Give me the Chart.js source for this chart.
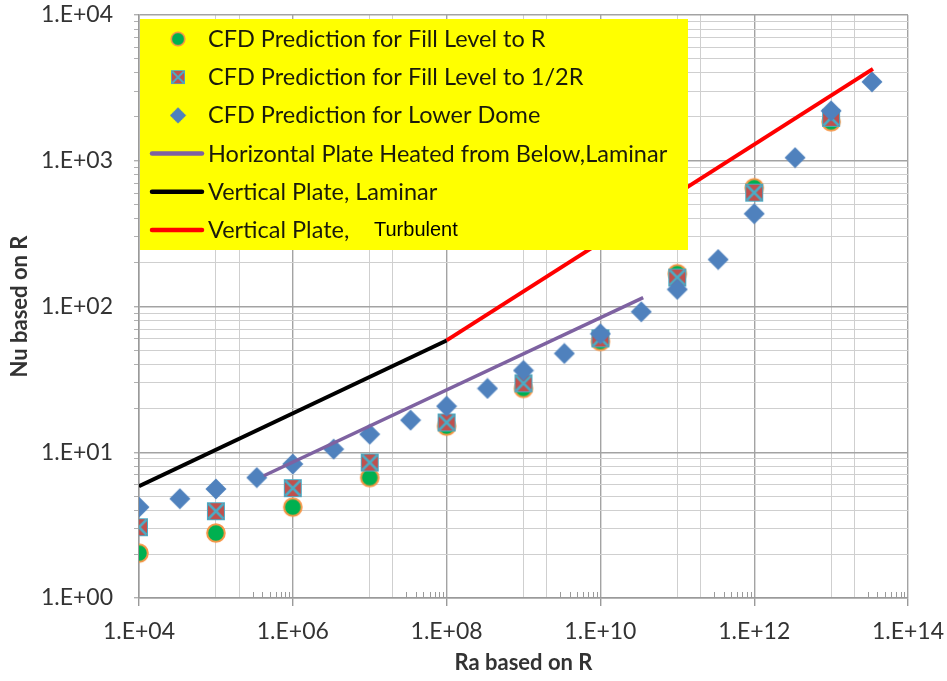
<!DOCTYPE html>
<html>
<head>
<meta charset="utf-8">
<script src="https://cdn.jsdelivr.net/npm/chart.js@4.4.1/dist/chart.umd.min.js"></script>
<style>
  html, body { margin: 0; padding: 0; background: #fff; }
</style>
</head>
<body>
<canvas id="nuChart" width="947" height="681"></canvas>
<script>
// values
const fillRa = [1e4, 1e5, 1e6, 1e7, 1e8, 1e9, 1e10, 1e11, 1e12, 1e13];
const fillRNu = [2.03, 2.79, 4.2, 6.7, 15.1, 27.4, 57.6, 168, 653, 1850];
const fillHalfRNu = [3.06, 3.94, 5.67, 8.5, 16.0, 29.7, 60.4, 158, 604, 1970];

const domeRa = [1e4, 3.4e4, 1e5, 3.4e5, 1e6, 3.4e6, 1e7, 3.4e7, 1e8, 3.4e8,
  1e9, 3.4e9, 1e10, 3.4e10, 1e11, 3.4e11, 1e12, 3.4e12, 1e13, 3.4e13];
const domeNu = [4.2, 4.8, 5.6, 6.7, 8.3, 10.5, 13.3, 16.6, 20.7, 27.4,
  36.4, 47.6, 65, 92, 131, 210, 433, 1050, 2200, 3480];

const horizRa = [4.2e5, 3.6e10];
const horizNu = [6.9, 115];
const vertLamRa = [1e4, 1e8];
const vertLamNu = [5.85, 58.5];
const vertTurbRa = [1e8, 3.5e13];
const vertTurbNu = [58.5, 4270];

const xMajorTicks = [1e4, 1e6, 1e8, 1e10, 1e12, 1e14];
const xTickLabels = ["1.E+04", "1.E+06", "1.E+08", "1.E+10", "1.E+12", "1.E+14"];
const yMajorTicks = [1, 10, 100, 1000, 10000];
const yTickLabels = ["1.E+00", "1.E+01", "1.E+02", "1.E+03", "1.E+04"];

const labels = [
  "CFD Prediction for Fill Level to R",
  "CFD Prediction for Fill Level to 1/2R",
  "CFD Prediction for Lower Dome",
  "Horizontal Plate Heated from Below,Laminar",
  "Vertical Plate, Laminar",
  "Vertical Plate, Turbulent"
];

// grid positions: 10^even, plus 1 and 2 x 10^odd (Excel base-100 look)
const xGrid = [];
const xSmallTicks = [];
for (let e = 4; e <= 14; e++) {
  const p = Math.pow(10, e);
  xGrid.push(p);
  if (e % 2 === 1) {
    xGrid.push(2 * p);
    for (let k = 3; k <= 9; k++) xSmallTicks.push(k * p);
  }
}
const yGrid = [];
for (let n = 0; n < 4; n++) {
  for (let k = 1; k <= 9; k++) yGrid.push(k * Math.pow(10, n));
}
yGrid.push(10000);

function pairs(xs, ys) {
  return xs.map((x, i) => ({ x: x, y: ys[i] }));
}

function makeMarker(kind) {
  const c = document.createElement("canvas");
  c.width = 22;
  c.height = 22;
  const g = c.getContext("2d");
  if (kind === "circle") {
    g.beginPath();
    g.arc(11, 11, 8.8, 0, Math.PI * 2);
    g.fillStyle = "#00b050";
    g.fill();
    g.lineWidth = 2;
    g.strokeStyle = "#f79646";
    g.stroke();
  } else if (kind === "square") {
    g.fillStyle = "#c0504d";
    g.fillRect(2.5, 2.5, 17, 17);
    g.strokeStyle = "#4bacc6";
    g.lineWidth = 2.5;
    g.beginPath();
    g.moveTo(3.5, 3.5); g.lineTo(18.5, 18.5);
    g.moveTo(18.5, 3.5); g.lineTo(3.5, 18.5);
    g.stroke();
    g.lineWidth = 1;
    g.strokeRect(2.5, 2.5, 17, 17);
  } else {
    g.beginPath();
    g.moveTo(11, 0.5); g.lineTo(21.5, 11); g.lineTo(11, 21.5); g.lineTo(0.5, 11);
    g.closePath();
    g.fillStyle = "#4f81bd";
    g.fill();
  }
  return c;
}

const circleImg = makeMarker("circle");
const squareImg = makeMarker("square");
const diamondImg = makeMarker("diamond");

const smallTicks = {
  id: "smallTicks",
  beforeDatasetsDraw(chart) {
    const { ctx, chartArea, scales } = chart;
    ctx.save();
    ctx.strokeStyle = "#9a9a9a";
    ctx.lineWidth = 1;
    ctx.beginPath();
    xSmallTicks.forEach((v) => {
      const px = Math.round(scales.x.getPixelForValue(v)) + 0.5;
      ctx.moveTo(px, chartArea.bottom);
      ctx.lineTo(px, chartArea.bottom - 6);
    });
    ctx.stroke();
    ctx.restore();
  }
};

const legendBox = {
  id: "legendBox",
  afterDraw(chart) {
    const { ctx, chartArea } = chart;
    const x0 = chartArea.left + 1;
    const y0 = chartArea.top + 4;
    ctx.save();
    ctx.fillStyle = "#ffff00";
    ctx.fillRect(x0, y0, 548, 231);
    chart.data.datasets.forEach((ds, i) => {
      const y = y0 + 20 + i * 38.2;
      if (ds.showLine) {
        ctx.strokeStyle = ds.borderColor;
        ctx.lineWidth = 4.5;
        ctx.lineCap = "round";
        ctx.beginPath();
        ctx.moveTo(x0 + 12, y);
        ctx.lineTo(x0 + 62, y);
        ctx.stroke();
      } else {
        const img = ds.pointStyle;
        ctx.drawImage(img, x0 + 38 - 8.5, y - 8.5, 17, 17);
      }
      ctx.fillStyle = "#1a1a0c";
      ctx.font = "23.5px Lato";
      ctx.textBaseline = "alphabetic";
      const text = ds.label;
      if (text.indexOf("Turbulent") > -1) {
        ctx.fillText("Vertical Plate, ", x0 + 68, y + 8);
        ctx.fillStyle = "#000";
        ctx.font = "20px 'Liberation Sans'";
        ctx.fillText("Turbulent", x0 + 234, y + 6);
      } else {
        ctx.fillText(text, x0 + 68, y + 8);
      }
    });
    ctx.restore();
  }
};

function initChart() {
  const ctx = document.getElementById("nuChart").getContext("2d");

  new Chart(ctx, {
    type: "scatter",
    data: {
      datasets: [
        { label: labels[0], data: pairs(fillRa, fillRNu), pointStyle: circleImg, pointRadius: 9, order: 3 },
        { label: labels[1], data: pairs(fillRa, fillHalfRNu), pointStyle: squareImg, pointRadius: 9, order: 2 },
        { label: labels[2], data: pairs(domeRa, domeNu), pointStyle: diamondImg, pointRadius: 10, order: 1 },
        { label: labels[3], data: pairs(horizRa, horizNu), showLine: true, borderColor: "#7e62a1", borderWidth: 3.5, pointRadius: 0, order: 0 },
        { label: labels[4], data: pairs(vertLamRa, vertLamNu), showLine: true, borderColor: "#000000", borderWidth: 4, pointRadius: 0, order: 0 },
        { label: labels[5], data: pairs(vertTurbRa, vertTurbNu), showLine: true, borderColor: "#ff0000", borderWidth: 4, pointRadius: 0, order: 0 }
      ]
    },
    options: {
      responsive: false,
      animation: false,
      layout: { padding: { top: 15, right: 39, left: 0, bottom: 0 } },
      plugins: {
        legend: { display: false },
        tooltip: { enabled: false }
      },
      scales: {
        x: {
          type: "logarithmic",
          min: 1e4,
          max: 1e14,
          afterBuildTicks: (s) => { s.ticks = xGrid.map((v) => ({ value: v })); },
          afterFit: (s) => {
            s.height = 83;
            s.paddingLeft = 0;
            s.paddingRight = 0;
          },
          border: { color: "#9a9a9a", width: 1.5 },
          grid: {
            color: (c) => (xMajorTicks.indexOf(c.tick.value) > -1 ? "#a3a3a3" : "#cfcfcf"),
            lineWidth: (c) => (xMajorTicks.indexOf(c.tick.value) > -1 ? 1.4 : 1),
            tickColor: (c) => (xMajorTicks.indexOf(c.tick.value) > -1 ? "#9a9a9a" : "rgba(0,0,0,0)"),
            tickLength: 8
          },
          ticks: {
            autoSkip: false,
            maxRotation: 0,
            padding: 12,
            color: "#333333",
            font: { family: "Lato", size: 23 },
            callback: (v) => {
              const i = xMajorTicks.indexOf(v);
              return i > -1 ? xTickLabels[i] : "";
            }
          },
          title: {
            display: true,
            text: "Ra based on R",
            color: "#333333",
            font: { family: "Lato", size: 22, weight: "bold" },
            padding: { top: 0, bottom: 5 }
          }
        },
        y: {
          type: "logarithmic",
          min: 1,
          max: 10000,
          afterBuildTicks: (s) => { s.ticks = yGrid.map((v) => ({ value: v })); },
          afterFit: (s) => {
            s.width = 139;
            s.paddingTop = 0;
            s.paddingBottom = 0;
          },
          border: { color: "#9a9a9a", width: 1.5 },
          grid: {
            color: (c) => (yMajorTicks.indexOf(c.tick.value) > -1 ? "#a3a3a3" : "#cfcfcf"),
            lineWidth: (c) => (yMajorTicks.indexOf(c.tick.value) > -1 ? 1.4 : 1),
            tickColor: "#b0b0b0",
            tickLength: 5
          },
          ticks: {
            autoSkip: false,
            padding: 21,
            color: "#333333",
            font: { family: "Lato", size: 23 },
            callback: (v) => {
              const i = yMajorTicks.indexOf(v);
              return i > -1 ? yTickLabels[i] : "";
            }
          },
          title: {
            display: true,
            text: "Nu based on R",
            color: "#333333",
            font: { family: "Lato", size: 22, weight: "bold" },
            padding: { top: 7, bottom: 0 }
          }
        }
      }
    },
    plugins: [smallTicks, legendBox]
  });
}

window.addEventListener("load", initChart);
</script>
</body>
</html>
